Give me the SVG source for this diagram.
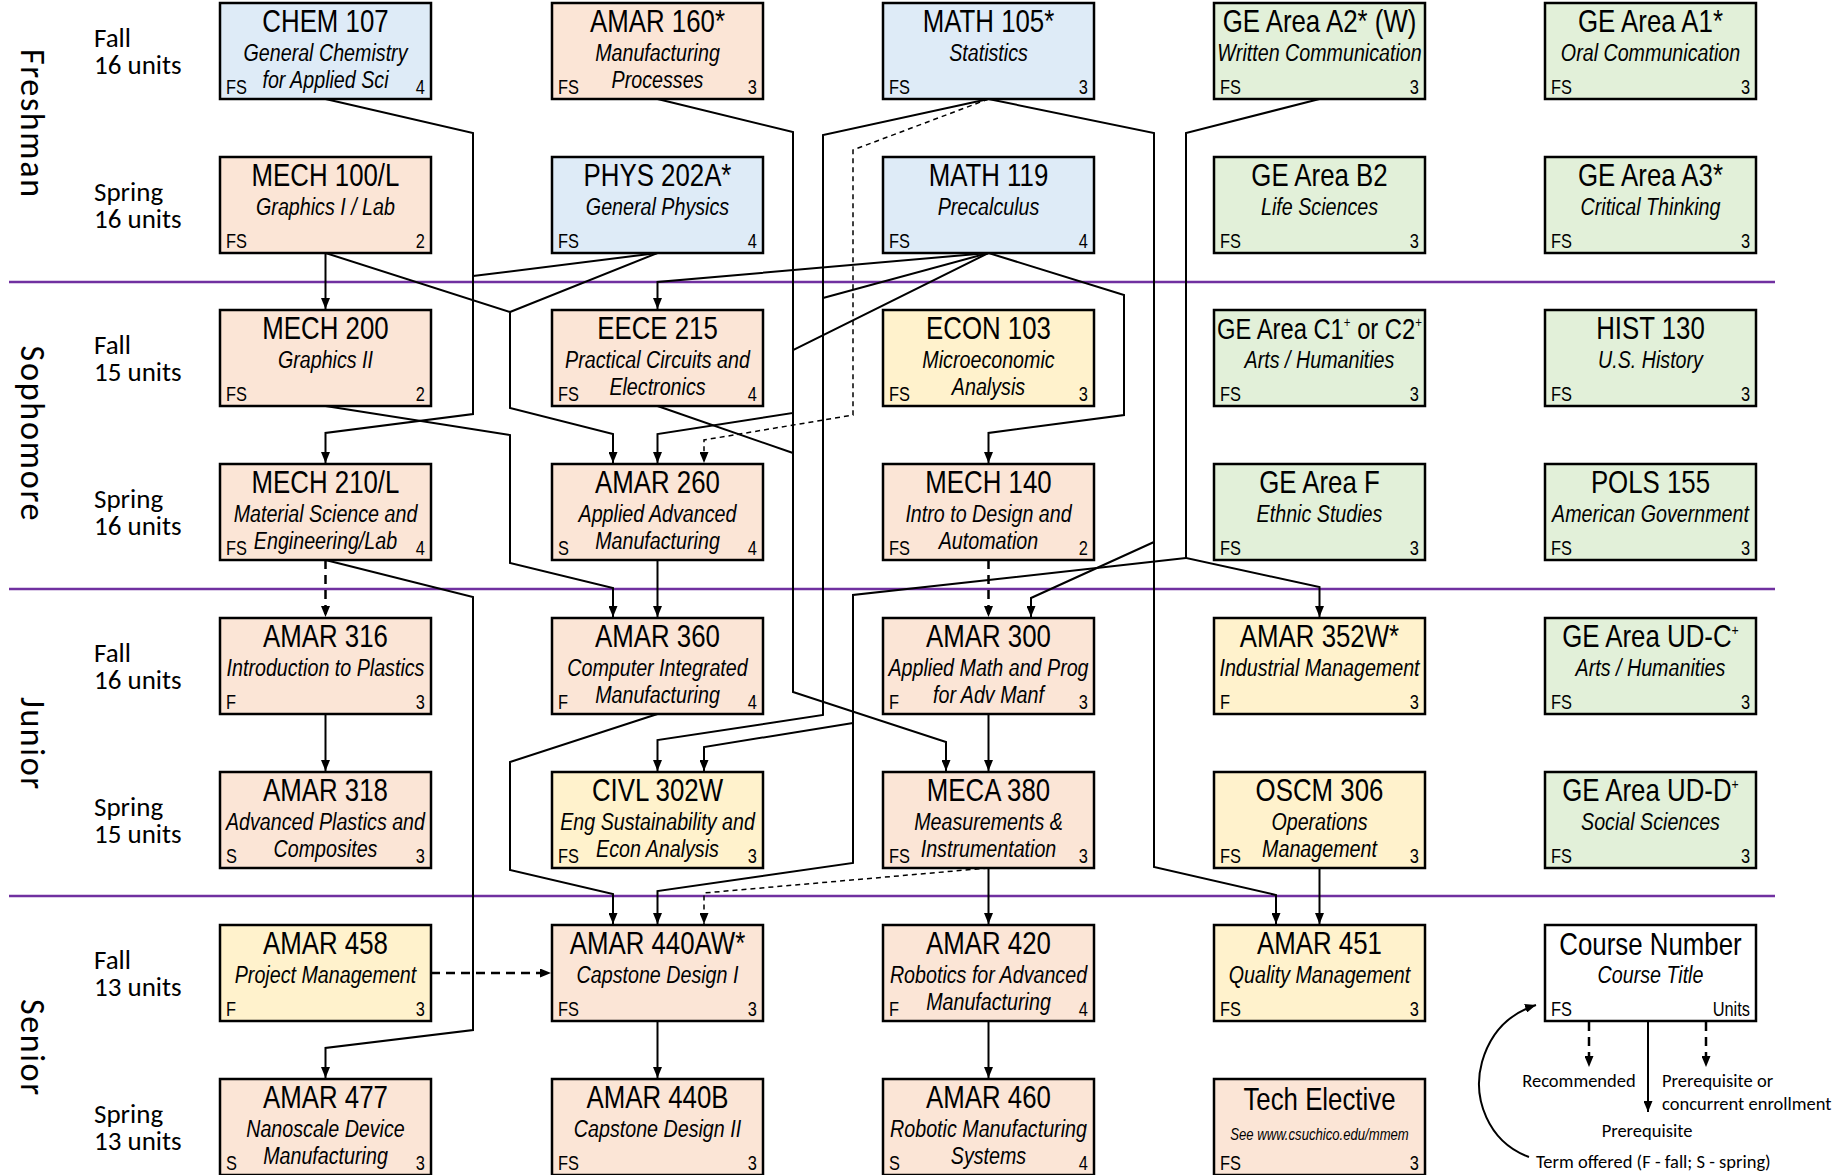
<svg xmlns="http://www.w3.org/2000/svg" width="1841" height="1175" viewBox="0 0 1841 1175">
<style>
.bx{stroke:#000;stroke-width:2.5}
.blue{fill:#DEEBF7}.org{fill:#FBE5D6}.yel{fill:#FFF2CC}.grn{fill:#E2F0D9}.wht{fill:#FFFFFF}
text{fill:#000}
.cn{font-family:"Liberation Sans",Arial,sans-serif;font-size:31.5px;text-anchor:middle}
.ti{font-family:"Liberation Sans",Arial,sans-serif;font-style:italic;font-size:24px;text-anchor:middle}
.tm{font-family:"Liberation Sans",Arial,sans-serif;font-size:20px}
.un{font-family:"Liberation Sans",Arial,sans-serif;font-size:20px;text-anchor:end}
.sm{font-family:"Liberation Sans",Arial,sans-serif;font-style:italic;font-size:16px;text-anchor:middle}
.lb{font-family:Carlito,Lato,"Open Sans",sans-serif;font-size:27px}
.yr{font-family:Carlito,Lato,"Open Sans",sans-serif;font-size:34px;text-anchor:middle}
.lg{font-family:Carlito,Lato,"Open Sans",sans-serif;font-size:18.5px}
.ln{fill:none;stroke:#000;stroke-width:2}
.dt{stroke-dasharray:5 4;stroke-width:1.5}
.dk{stroke-dasharray:9 6;stroke-width:2.5}
.sep{stroke:#7030A0;stroke-width:2.5}
</style>
<defs>
<marker id="ah" viewBox="0 0 11 9" refX="11" refY="4.5" markerWidth="11" markerHeight="9" markerUnits="userSpaceOnUse" orient="auto"><path d="M0,0 L11,4.5 L0,9 z" fill="#000"/></marker>
</defs>
<rect x="0" y="0" width="1841" height="1175" fill="#FFFFFF"/>

<g id="separators">
<line class="sep" x1="9" y1="282" x2="1775" y2="282"/>
<line class="sep" x1="9" y1="589" x2="1775" y2="589"/>
<line class="sep" x1="9" y1="896" x2="1775" y2="896"/>
</g>

<g id="year-labels">
<text class="yr" transform="translate(21,123) rotate(90)" textLength="148">Freshman</text>
<text class="yr" transform="translate(21,433) rotate(90)" textLength="175">Sophomore</text>
<text class="yr" transform="translate(21,743) rotate(90)" textLength="92">Junior</text>
<text class="yr" transform="translate(21,1047) rotate(90)" textLength="96">Senior</text>
</g>

<g id="term-labels">
<text class="lb" x="94" y="47">Fall</text><text class="lb" x="94" y="74">16 units</text>
<text class="lb" x="94" y="201">Spring</text><text class="lb" x="94" y="228">16 units</text>
<text class="lb" x="94" y="354">Fall</text><text class="lb" x="94" y="381">15 units</text>
<text class="lb" x="94" y="508">Spring</text><text class="lb" x="94" y="535">16 units</text>
<text class="lb" x="94" y="662">Fall</text><text class="lb" x="94" y="689">16 units</text>
<text class="lb" x="94" y="816">Spring</text><text class="lb" x="94" y="843">15 units</text>
<text class="lb" x="94" y="969">Fall</text><text class="lb" x="94" y="996">13 units</text>
<text class="lb" x="94" y="1123">Spring</text><text class="lb" x="94" y="1150">13 units</text>
</g>

<!-- Row 1 -->
<g id="chem107"><rect class="bx blue" x="220" y="3" width="211" height="96"/>
<text class="cn" transform="scale(.82,1)" x="396.95" y="32">CHEM 107</text><text class="ti" transform="scale(.82,1)" x="396.95" y="61">General Chemistry</text><text class="ti" transform="scale(.82,1)" x="396.95" y="88">for Applied Sci</text>
<text class="tm" transform="scale(.82,1)" x="275.61" y="94">FS</text><text class="un" transform="scale(.82,1)" x="518.29" y="94">4</text></g>
<g id="amar160"><rect class="bx org" x="552" y="3" width="211" height="96"/>
<text class="cn" transform="scale(.82,1)" x="801.83" y="32">AMAR 160*</text><text class="ti" transform="scale(.82,1)" x="801.83" y="61">Manufacturing</text><text class="ti" transform="scale(.82,1)" x="801.83" y="88">Processes</text>
<text class="tm" transform="scale(.82,1)" x="680.49" y="94">FS</text><text class="un" transform="scale(.82,1)" x="923.17" y="94">3</text></g>
<g id="math105"><rect class="bx blue" x="883" y="3" width="211" height="96"/>
<text class="cn" transform="scale(.82,1)" x="1205.49" y="32">MATH 105*</text><text class="ti" transform="scale(.82,1)" x="1205.49" y="61">Statistics</text>
<text class="tm" transform="scale(.82,1)" x="1084.15" y="94">FS</text><text class="un" transform="scale(.82,1)" x="1326.83" y="94">3</text></g>
<g id="ge-a2"><rect class="bx grn" x="1214" y="3" width="211" height="96"/>
<text class="cn" transform="scale(.82,1)" x="1609.15" y="32">GE Area A2* (W)</text><text class="ti" transform="scale(.82,1)" x="1609.15" y="61">Written Communication</text>
<text class="tm" transform="scale(.82,1)" x="1487.80" y="94">FS</text><text class="un" transform="scale(.82,1)" x="1730.49" y="94">3</text></g>
<g id="ge-a1"><rect class="bx grn" x="1545" y="3" width="211" height="96"/>
<text class="cn" transform="scale(.82,1)" x="2012.80" y="32">GE Area A1*</text><text class="ti" transform="scale(.82,1)" x="2012.80" y="61">Oral Communication</text>
<text class="tm" transform="scale(.82,1)" x="1891.46" y="94">FS</text><text class="un" transform="scale(.82,1)" x="2134.15" y="94">3</text></g>

<!-- Row 2 -->
<g id="mech100l"><rect class="bx org" x="220" y="157" width="211" height="96"/>
<text class="cn" transform="scale(.82,1)" x="396.95" y="186">MECH 100/L</text><text class="ti" transform="scale(.82,1)" x="396.95" y="215">Graphics I / Lab</text>
<text class="tm" transform="scale(.82,1)" x="275.61" y="248">FS</text><text class="un" transform="scale(.82,1)" x="518.29" y="248">2</text></g>
<g id="phys202a"><rect class="bx blue" x="552" y="157" width="211" height="96"/>
<text class="cn" transform="scale(.82,1)" x="801.83" y="186">PHYS 202A*</text><text class="ti" transform="scale(.82,1)" x="801.83" y="215">General Physics</text>
<text class="tm" transform="scale(.82,1)" x="680.49" y="248">FS</text><text class="un" transform="scale(.82,1)" x="923.17" y="248">4</text></g>
<g id="math119"><rect class="bx blue" x="883" y="157" width="211" height="96"/>
<text class="cn" transform="scale(.82,1)" x="1205.49" y="186">MATH 119</text><text class="ti" transform="scale(.82,1)" x="1205.49" y="215">Precalculus</text>
<text class="tm" transform="scale(.82,1)" x="1084.15" y="248">FS</text><text class="un" transform="scale(.82,1)" x="1326.83" y="248">4</text></g>
<g id="ge-b2"><rect class="bx grn" x="1214" y="157" width="211" height="96"/>
<text class="cn" transform="scale(.82,1)" x="1609.15" y="186">GE Area B2</text><text class="ti" transform="scale(.82,1)" x="1609.15" y="215">Life Sciences</text>
<text class="tm" transform="scale(.82,1)" x="1487.80" y="248">FS</text><text class="un" transform="scale(.82,1)" x="1730.49" y="248">3</text></g>
<g id="ge-a3"><rect class="bx grn" x="1545" y="157" width="211" height="96"/>
<text class="cn" transform="scale(.82,1)" x="2012.80" y="186">GE Area A3*</text><text class="ti" transform="scale(.82,1)" x="2012.80" y="215">Critical Thinking</text>
<text class="tm" transform="scale(.82,1)" x="1891.46" y="248">FS</text><text class="un" transform="scale(.82,1)" x="2134.15" y="248">3</text></g>

<!-- Row 3 -->
<g id="mech200"><rect class="bx org" x="220" y="310" width="211" height="96"/>
<text class="cn" transform="scale(.82,1)" x="396.95" y="339">MECH 200</text><text class="ti" transform="scale(.82,1)" x="396.95" y="368">Graphics II</text>
<text class="tm" transform="scale(.82,1)" x="275.61" y="401">FS</text><text class="un" transform="scale(.82,1)" x="518.29" y="401">2</text></g>
<g id="eece215"><rect class="bx org" x="552" y="310" width="211" height="96"/>
<text class="cn" transform="scale(.82,1)" x="801.83" y="339">EECE 215</text><text class="ti" transform="scale(.82,1)" x="801.83" y="368">Practical Circuits and</text><text class="ti" transform="scale(.82,1)" x="801.83" y="395">Electronics</text>
<text class="tm" transform="scale(.82,1)" x="680.49" y="401">FS</text><text class="un" transform="scale(.82,1)" x="923.17" y="401">4</text></g>
<g id="econ103"><rect class="bx yel" x="883" y="310" width="211" height="96"/>
<text class="cn" transform="scale(.82,1)" x="1205.49" y="339">ECON 103</text><text class="ti" transform="scale(.82,1)" x="1205.49" y="368">Microeconomic</text><text class="ti" transform="scale(.82,1)" x="1205.49" y="395">Analysis</text>
<text class="tm" transform="scale(.82,1)" x="1084.15" y="401">FS</text><text class="un" transform="scale(.82,1)" x="1326.83" y="401">3</text></g>
<g id="ge-c"><rect class="bx grn" x="1214" y="310" width="211" height="96"/>
<text class="cn" transform="scale(.82,1)" x="1609.15" y="339" style="font-size:29px">GE Area C1<tspan style="font-size:14px" dy="-12">+</tspan><tspan dy="12"> or C2</tspan><tspan style="font-size:14px" dy="-12">+</tspan></text><text class="ti" transform="scale(.82,1)" x="1609.15" y="368">Arts / Humanities</text>
<text class="tm" transform="scale(.82,1)" x="1487.80" y="401">FS</text><text class="un" transform="scale(.82,1)" x="1730.49" y="401">3</text></g>
<g id="hist130"><rect class="bx grn" x="1545" y="310" width="211" height="96"/>
<text class="cn" transform="scale(.82,1)" x="2012.80" y="339">HIST 130</text><text class="ti" transform="scale(.82,1)" x="2012.80" y="368">U.S. History</text>
<text class="tm" transform="scale(.82,1)" x="1891.46" y="401">FS</text><text class="un" transform="scale(.82,1)" x="2134.15" y="401">3</text></g>

<!-- Row 4 -->
<g id="mech210l"><rect class="bx org" x="220" y="464" width="211" height="96"/>
<text class="cn" transform="scale(.82,1)" x="396.95" y="493">MECH 210/L</text><text class="ti" transform="scale(.82,1)" x="396.95" y="522">Material Science and</text><text class="ti" transform="scale(.82,1)" x="396.95" y="549">Engineering/Lab</text>
<text class="tm" transform="scale(.82,1)" x="275.61" y="555">FS</text><text class="un" transform="scale(.82,1)" x="518.29" y="555">4</text></g>
<g id="amar260"><rect class="bx org" x="552" y="464" width="211" height="96"/>
<text class="cn" transform="scale(.82,1)" x="801.83" y="493">AMAR 260</text><text class="ti" transform="scale(.82,1)" x="801.83" y="522">Applied Advanced</text><text class="ti" transform="scale(.82,1)" x="801.83" y="549">Manufacturing</text>
<text class="tm" transform="scale(.82,1)" x="680.49" y="555">S</text><text class="un" transform="scale(.82,1)" x="923.17" y="555">4</text></g>
<g id="mech140"><rect class="bx org" x="883" y="464" width="211" height="96"/>
<text class="cn" transform="scale(.82,1)" x="1205.49" y="493">MECH 140</text><text class="ti" transform="scale(.82,1)" x="1205.49" y="522">Intro to Design and</text><text class="ti" transform="scale(.82,1)" x="1205.49" y="549">Automation</text>
<text class="tm" transform="scale(.82,1)" x="1084.15" y="555">FS</text><text class="un" transform="scale(.82,1)" x="1326.83" y="555">2</text></g>
<g id="ge-f"><rect class="bx grn" x="1214" y="464" width="211" height="96"/>
<text class="cn" transform="scale(.82,1)" x="1609.15" y="493">GE Area F</text><text class="ti" transform="scale(.82,1)" x="1609.15" y="522">Ethnic Studies</text>
<text class="tm" transform="scale(.82,1)" x="1487.80" y="555">FS</text><text class="un" transform="scale(.82,1)" x="1730.49" y="555">3</text></g>
<g id="pols155"><rect class="bx grn" x="1545" y="464" width="211" height="96"/>
<text class="cn" transform="scale(.82,1)" x="2012.80" y="493">POLS 155</text><text class="ti" transform="scale(.82,1)" x="2012.80" y="522">American Government</text>
<text class="tm" transform="scale(.82,1)" x="1891.46" y="555">FS</text><text class="un" transform="scale(.82,1)" x="2134.15" y="555">3</text></g>

<!-- Row 5 -->
<g id="amar316"><rect class="bx org" x="220" y="618" width="211" height="96"/>
<text class="cn" transform="scale(.82,1)" x="396.95" y="647">AMAR 316</text><text class="ti" transform="scale(.82,1)" x="396.95" y="676">Introduction to Plastics</text>
<text class="tm" transform="scale(.82,1)" x="275.61" y="709">F</text><text class="un" transform="scale(.82,1)" x="518.29" y="709">3</text></g>
<g id="amar360"><rect class="bx org" x="552" y="618" width="211" height="96"/>
<text class="cn" transform="scale(.82,1)" x="801.83" y="647">AMAR 360</text><text class="ti" transform="scale(.82,1)" x="801.83" y="676">Computer Integrated</text><text class="ti" transform="scale(.82,1)" x="801.83" y="703">Manufacturing</text>
<text class="tm" transform="scale(.82,1)" x="680.49" y="709">F</text><text class="un" transform="scale(.82,1)" x="923.17" y="709">4</text></g>
<g id="amar300"><rect class="bx org" x="883" y="618" width="211" height="96"/>
<text class="cn" transform="scale(.82,1)" x="1205.49" y="647">AMAR 300</text><text class="ti" transform="scale(.82,1)" x="1205.49" y="676">Applied Math and Prog</text><text class="ti" transform="scale(.82,1)" x="1205.49" y="703">for Adv Manf</text>
<text class="tm" transform="scale(.82,1)" x="1084.15" y="709">F</text><text class="un" transform="scale(.82,1)" x="1326.83" y="709">3</text></g>
<g id="amar352w"><rect class="bx yel" x="1214" y="618" width="211" height="96"/>
<text class="cn" transform="scale(.82,1)" x="1609.15" y="647">AMAR 352W*</text><text class="ti" transform="scale(.82,1)" x="1609.15" y="676">Industrial Management</text>
<text class="tm" transform="scale(.82,1)" x="1487.80" y="709">F</text><text class="un" transform="scale(.82,1)" x="1730.49" y="709">3</text></g>
<g id="ge-udc"><rect class="bx grn" x="1545" y="618" width="211" height="96"/>
<text class="cn" transform="scale(.82,1)" x="2012.80" y="647">GE Area UD-C<tspan style="font-size:15px" dy="-12">+</tspan></text><text class="ti" transform="scale(.82,1)" x="2012.80" y="676">Arts / Humanities</text>
<text class="tm" transform="scale(.82,1)" x="1891.46" y="709">FS</text><text class="un" transform="scale(.82,1)" x="2134.15" y="709">3</text></g>

<!-- Row 6 -->
<g id="amar318"><rect class="bx org" x="220" y="772" width="211" height="96"/>
<text class="cn" transform="scale(.82,1)" x="396.95" y="801">AMAR 318</text><text class="ti" transform="scale(.82,1)" x="396.95" y="830">Advanced Plastics and</text><text class="ti" transform="scale(.82,1)" x="396.95" y="857">Composites</text>
<text class="tm" transform="scale(.82,1)" x="275.61" y="863">S</text><text class="un" transform="scale(.82,1)" x="518.29" y="863">3</text></g>
<g id="civl302w"><rect class="bx yel" x="552" y="772" width="211" height="96"/>
<text class="cn" transform="scale(.82,1)" x="801.83" y="801">CIVL 302W</text><text class="ti" transform="scale(.82,1)" x="801.83" y="830">Eng Sustainability and</text><text class="ti" transform="scale(.82,1)" x="801.83" y="857">Econ Analysis</text>
<text class="tm" transform="scale(.82,1)" x="680.49" y="863">FS</text><text class="un" transform="scale(.82,1)" x="923.17" y="863">3</text></g>
<g id="meca380"><rect class="bx org" x="883" y="772" width="211" height="96"/>
<text class="cn" transform="scale(.82,1)" x="1205.49" y="801">MECA 380</text><text class="ti" transform="scale(.82,1)" x="1205.49" y="830">Measurements &amp;</text><text class="ti" transform="scale(.82,1)" x="1205.49" y="857">Instrumentation</text>
<text class="tm" transform="scale(.82,1)" x="1084.15" y="863">FS</text><text class="un" transform="scale(.82,1)" x="1326.83" y="863">3</text></g>
<g id="oscm306"><rect class="bx yel" x="1214" y="772" width="211" height="96"/>
<text class="cn" transform="scale(.82,1)" x="1609.15" y="801">OSCM 306</text><text class="ti" transform="scale(.82,1)" x="1609.15" y="830">Operations</text><text class="ti" transform="scale(.82,1)" x="1609.15" y="857">Management</text>
<text class="tm" transform="scale(.82,1)" x="1487.80" y="863">FS</text><text class="un" transform="scale(.82,1)" x="1730.49" y="863">3</text></g>
<g id="ge-udd"><rect class="bx grn" x="1545" y="772" width="211" height="96"/>
<text class="cn" transform="scale(.82,1)" x="2012.80" y="801">GE Area UD-D<tspan style="font-size:15px" dy="-12">+</tspan></text><text class="ti" transform="scale(.82,1)" x="2012.80" y="830">Social Sciences</text>
<text class="tm" transform="scale(.82,1)" x="1891.46" y="863">FS</text><text class="un" transform="scale(.82,1)" x="2134.15" y="863">3</text></g>

<!-- Row 7 -->
<g id="amar458"><rect class="bx yel" x="220" y="925" width="211" height="96"/>
<text class="cn" transform="scale(.82,1)" x="396.95" y="954">AMAR 458</text><text class="ti" transform="scale(.82,1)" x="396.95" y="983">Project Management</text>
<text class="tm" transform="scale(.82,1)" x="275.61" y="1016">F</text><text class="un" transform="scale(.82,1)" x="518.29" y="1016">3</text></g>
<g id="amar440aw"><rect class="bx org" x="552" y="925" width="211" height="96"/>
<text class="cn" transform="scale(.82,1)" x="801.83" y="954">AMAR 440AW*</text><text class="ti" transform="scale(.82,1)" x="801.83" y="983">Capstone Design I</text>
<text class="tm" transform="scale(.82,1)" x="680.49" y="1016">FS</text><text class="un" transform="scale(.82,1)" x="923.17" y="1016">3</text></g>
<g id="amar420"><rect class="bx org" x="883" y="925" width="211" height="96"/>
<text class="cn" transform="scale(.82,1)" x="1205.49" y="954">AMAR 420</text><text class="ti" transform="scale(.82,1)" x="1205.49" y="983">Robotics for Advanced</text><text class="ti" transform="scale(.82,1)" x="1205.49" y="1010">Manufacturing</text>
<text class="tm" transform="scale(.82,1)" x="1084.15" y="1016">F</text><text class="un" transform="scale(.82,1)" x="1326.83" y="1016">4</text></g>
<g id="amar451"><rect class="bx yel" x="1214" y="925" width="211" height="96"/>
<text class="cn" transform="scale(.82,1)" x="1609.15" y="954">AMAR 451</text><text class="ti" transform="scale(.82,1)" x="1609.15" y="983">Quality Management</text>
<text class="tm" transform="scale(.82,1)" x="1487.80" y="1016">FS</text><text class="un" transform="scale(.82,1)" x="1730.49" y="1016">3</text></g>
<g id="legend-box"><rect class="bx wht" x="1545" y="925" width="211" height="96"/>
<text class="cn" transform="scale(.82,1)" x="2012.80" y="955">Course Number</text><text class="ti" transform="scale(.82,1)" x="2012.80" y="983">Course Title</text>
<text class="tm" transform="scale(.82,1)" x="1891.46" y="1016">FS</text><text class="un" transform="scale(.82,1)" x="2134.15" y="1016">Units</text></g>

<!-- Row 8 -->
<g id="amar477"><rect class="bx org" x="220" y="1079" width="211" height="96"/>
<text class="cn" transform="scale(.82,1)" x="396.95" y="1108">AMAR 477</text><text class="ti" transform="scale(.82,1)" x="396.95" y="1137">Nanoscale Device</text><text class="ti" transform="scale(.82,1)" x="396.95" y="1164">Manufacturing</text>
<text class="tm" transform="scale(.82,1)" x="275.61" y="1170">S</text><text class="un" transform="scale(.82,1)" x="518.29" y="1170">3</text></g>
<g id="amar440b"><rect class="bx org" x="552" y="1079" width="211" height="96"/>
<text class="cn" transform="scale(.82,1)" x="801.83" y="1108">AMAR 440B</text><text class="ti" transform="scale(.82,1)" x="801.83" y="1137">Capstone Design II</text>
<text class="tm" transform="scale(.82,1)" x="680.49" y="1170">FS</text><text class="un" transform="scale(.82,1)" x="923.17" y="1170">3</text></g>
<g id="amar460"><rect class="bx org" x="883" y="1079" width="211" height="96"/>
<text class="cn" transform="scale(.82,1)" x="1205.49" y="1108">AMAR 460</text><text class="ti" transform="scale(.82,1)" x="1205.49" y="1137">Robotic Manufacturing</text><text class="ti" transform="scale(.82,1)" x="1205.49" y="1164">Systems</text>
<text class="tm" transform="scale(.82,1)" x="1084.15" y="1170">S</text><text class="un" transform="scale(.82,1)" x="1326.83" y="1170">4</text></g>
<g id="tech-elective"><rect class="bx org" x="1214" y="1079" width="211" height="96"/>
<text class="cn" transform="scale(.82,1)" x="1609.15" y="1110">Tech Elective</text><text class="sm" transform="scale(.82,1)" x="1609.15" y="1140">See www.csuchico.edu/mmem</text>
<text class="tm" transform="scale(.82,1)" x="1487.80" y="1170">FS</text><text class="un" transform="scale(.82,1)" x="1730.49" y="1170">3</text></g>

<g id="connectors">
<polyline class="ln" points="325.5,99 473,133 473,414 325.5,433 325.5,463" marker-end="url(#ah)"/>
<polyline class="ln" points="657.5,253 473,276"/>
<polyline class="ln" points="325.5,560 473,597 473,1030 325.5,1048 325.5,1078" marker-end="url(#ah)"/>
<polyline class="ln" points="325.5,253 325.5,309" marker-end="url(#ah)"/>
<polyline class="ln" points="325.5,253 510,312 510,408 613,434 613,463" marker-end="url(#ah)"/>
<polyline class="ln" points="657.5,253 510,312"/>
<polyline class="ln" points="325.5,406 510,435 510,563 613,588 613,617" marker-end="url(#ah)"/>
<polyline class="ln" points="657.5,714 510,762 510,870 613,894 613,924" marker-end="url(#ah)"/>
<polyline class="ln" points="657.5,560 657.5,617" marker-end="url(#ah)"/>
<polyline class="ln" points="657.5,99 793,132 793,692 946,742 946,771" marker-end="url(#ah)"/>
<polyline class="ln" points="657.5,406 793,453"/>
<polyline class="ln" points="988.5,253 657.5,282 657.5,309" marker-end="url(#ah)"/>
<polyline class="ln" points="988.5,253 793,350 793,413 657.5,434 657.5,463" marker-end="url(#ah)"/>
<polyline class="ln" points="988.5,253 823,298"/>
<polyline class="ln" points="988.5,99 823,135 823,715 657.5,740 657.5,771" marker-end="url(#ah)"/>
<polyline class="ln dt" points="988.5,99 853,150 853,415 704,440 704,463" marker-end="url(#ah)"/>
<polyline class="ln" points="988.5,253 1124,295 1124,415 988.5,433 988.5,463" marker-end="url(#ah)"/>
<polyline class="ln" points="988.5,99 1154,133 1154,867 1276,895 1276,924" marker-end="url(#ah)"/>
<polyline class="ln" points="1154,542 1031,598 1031,617" marker-end="url(#ah)"/>
<polyline class="ln" points="1319.5,99 1186,133 1186,558 1319.5,587 1319.5,617" marker-end="url(#ah)"/>
<polyline class="ln" points="1186,558 853,595 853,863 657.5,891 657.5,924" marker-end="url(#ah)"/>
<polyline class="ln" points="853,723 704,747 704,771" marker-end="url(#ah)"/>
<polyline class="ln dk" points="988.5,560 988.5,617" marker-end="url(#ah)"/>
<polyline class="ln" points="988.5,714 988.5,771" marker-end="url(#ah)"/>
<polyline class="ln" points="988.5,868 988.5,924" marker-end="url(#ah)"/>
<polyline class="ln dt" points="988.5,868 704,893 704,924" marker-end="url(#ah)"/>
<polyline class="ln" points="988.5,1021 988.5,1078" marker-end="url(#ah)"/>
<polyline class="ln" points="657.5,1021 657.5,1078" marker-end="url(#ah)"/>
<polyline class="ln dk" points="431,973 551,973" marker-end="url(#ah)"/>
<polyline class="ln" points="325.5,714 325.5,771" marker-end="url(#ah)"/>
<polyline class="ln dk" points="325.5,560 325.5,617" marker-end="url(#ah)"/>
<polyline class="ln" points="1319.5,868 1319.5,924" marker-end="url(#ah)"/>
</g>

<g id="legend">
<polyline class="ln dk" points="1589,1022 1589,1067" marker-end="url(#ah)"/>
<polyline class="ln" points="1648,1022 1648,1112" marker-end="url(#ah)"/>
<polyline class="ln dk" points="1706,1022 1706,1067" marker-end="url(#ah)"/>
<path class="ln" d="M1529,1157 C1488,1142 1472,1098 1482,1062 C1490,1034 1508,1014 1536,1005" marker-end="url(#ah)"/>
<text class="lg" x="1579" y="1087" text-anchor="middle">Recommended</text>
<text class="lg" x="1662" y="1087">Prerequisite or</text>
<text class="lg" x="1662" y="1110">concurrent enrollment</text>
<text class="lg" x="1647" y="1137" text-anchor="middle">Prerequisite</text>
<text class="lg" x="1536" y="1168">Term offered (F - fall; S - spring)</text>
</g>
</svg>
